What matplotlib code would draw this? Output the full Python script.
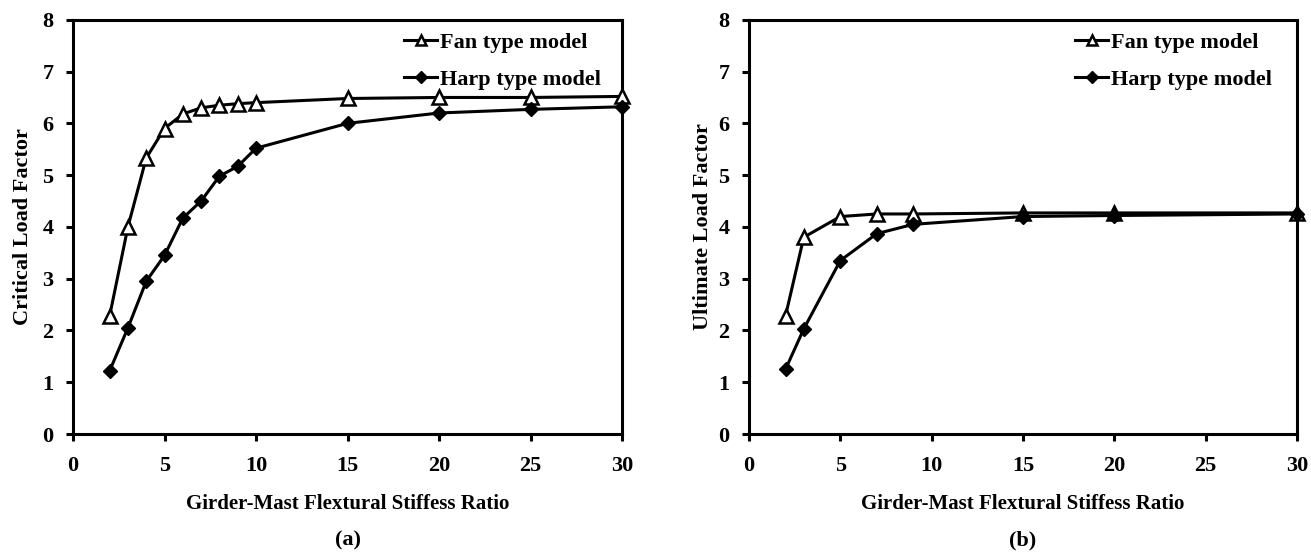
import matplotlib.pyplot as plt

plt.rcParams['font.family'] = 'Liberation Serif'
plt.rcParams['font.weight'] = 'bold'

# (a) critical load factor
xa = [2, 3, 4, 5, 6, 7, 8, 9, 10, 15, 20, 25, 30]
fan_a = [2.28, 4.0, 5.33, 5.9, 6.18, 6.3, 6.35, 6.38, 6.4, 6.48, 6.5, 6.5, 6.52]
harp_a = [1.22, 2.05, 2.95, 3.45, 4.17, 4.5, 4.98, 5.17, 5.52, 6.0, 6.2, 6.27, 6.32]

# (b) ultimate load factor
xb = [2, 3, 5, 7, 9, 15, 20, 30]
fan_b = [2.28, 3.8, 4.2, 4.25, 4.25, 4.27, 4.27, 4.27]
harp_b = [1.25, 2.03, 3.35, 3.87, 4.05, 4.2, 4.22, 4.25]

xticks = [0, 5, 10, 15, 20, 25, 30]
yticks = [0, 1, 2, 3, 4, 5, 6, 7, 8]

fig = plt.figure(figsize=(13.11, 5.56), dpi=100)
ax1 = fig.add_axes([0.0557, 0.2194, 0.4188, 0.745])
ax2 = fig.add_axes([0.5713, 0.2194, 0.4180, 0.745])

panels = [
    (ax1, xa, fan_a, harp_a, 'Critical Load Factor', '(a)', 0.603, -0.073),
    (ax2, xb, fan_b, harp_b, 'Ultimate Load Factor', '(b)', 0.595, -0.066),
]

for ax, x, fan, harp, ylab, tag, legx, ylabx in panels:
    ax.plot(x, fan, color='black', lw=2.2, marker='^', ms=9.5, mfc='white',
            mec='black', mew=1.8, label='Fan type model', zorder=3,
            clip_on=False)
    ax.plot(x, harp, color='black', lw=2.2, marker='D', ms=7.5, mfc='black',
            mec='black', label='Harp type model', zorder=3, clip_on=False)
    ax.set_xlim(0, 30)
    ax.set_ylim(0, 8)
    ax.set_xticks(xticks)
    ax.set_yticks(yticks)
    ax.tick_params(direction='out', length=5, width=2.2, labelsize=16)
    ax.tick_params(axis='x', pad=11)
    ax.tick_params(axis='y', pad=9)
    for s in ax.spines.values():
        s.set_linewidth(2.2)
    ax.set_ylabel(ylab, fontsize=16, fontweight='bold')
    ax.yaxis.set_label_coords(ylabx, 0.5)
    ax.set_xlabel('Girder-Mast Flextural Stiffess Ratio', fontsize=15,
                  fontweight='bold')
    ax.xaxis.set_label_coords(0.5, -0.145)
    ax.text(0.5, -0.256, tag, transform=ax.transAxes, ha='center',
            va='center', fontsize=16, fontweight='bold')
    ax.legend(loc='upper left', bbox_to_anchor=(legx, 0.97), frameon=False,
              fontsize=16, handlelength=1.5, handletextpad=0.1,
              labelspacing=0.75, borderpad=0, borderaxespad=0,
              markerscale=0.75)

fig.savefig('out.png', dpi=100, facecolor='white')
